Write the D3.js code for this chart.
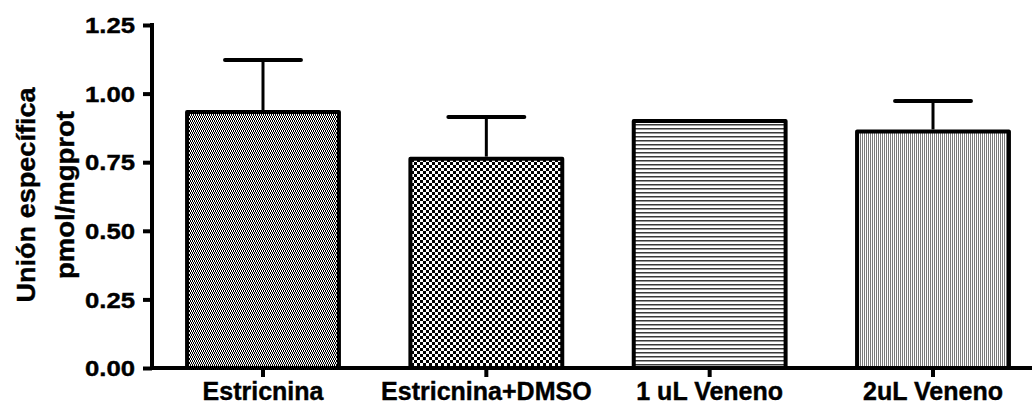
<!DOCTYPE html>
<html>
<head>
<meta charset="utf-8">
<script src="https://cdn.jsdelivr.net/npm/d3@7/dist/d3.min.js"></script>
<style>
  html, body { margin: 0; padding: 0; background: #fff; }
  svg { display: block; }
  text { font-family: "Liberation Sans", Arial, sans-serif; font-weight: bold; fill: #000;
         stroke: #000; stroke-width: 0.4px; }
</style>
</head>
<body>
<svg id="chart" width="1032" height="404"></svg>
<script>
// Specific binding per treatment (mean ± SEM, pmol/mg prot)
const categories = ["Estricnina", "Estricnina+DMSO", "1 uL Veneno", "2uL Veneno"];
const means = [0.933, 0.763, 0.900, 0.862];
const sems = [0.189, 0.152, null, 0.111];
const yTicks = [0, 0.25, 0.5, 0.75, 1.0, 1.25];
const yTitle = ["Unión específica", "pmol/mgprot"];
const fillIds = ["checkFine", "checkCoarse", "hLines", "vLines"];

const svg = d3.select("#chart");
const W = 1032, H = 404;

const y = d3.scaleLinear().domain([0, 1.25]).range([368, 25]);
const x = d3.scaleBand().domain(categories).range([152, 1044])
  .paddingInner(0.32).paddingOuter(0.157);

// Fill patterns for the bars
const defs = svg.append("defs");
function pattern(id, w, h, rects) {
  const p = defs.append("pattern").attr("id", id).attr("patternUnits", "userSpaceOnUse")
    .attr("width", w).attr("height", h);
  p.append("rect").attr("width", w).attr("height", h).attr("fill", "#fff");
  rects.forEach(r => p.append("rect").attr("x", r[0]).attr("y", r[1])
    .attr("width", r[2]).attr("height", r[3]).attr("fill", r[4]));
}
pattern("checkFine", 2, 4, [[0, 0, 1, 2, "#000"], [1, 2, 1, 2, "#000"]]);
pattern("checkCoarse", 6, 6, [[0, 0, 3, 3, "#000"], [3, 3, 3, 3, "#000"]]);
pattern("hLines", 4, 4, [[0, 0, 4, 1, "#3a3a3a"], [0, 1, 4, 1, "#9a9a9a"]]);
pattern("vLines", 2, 2, [[0, 0, 1, 2, "#7a7a7a"]]);

// Bars
const g = svg.append("g");
g.selectAll("rect.bar").data(categories).join("rect")
  .attr("class", "bar")
  .attr("x", d => x(d))
  .attr("width", x.bandwidth())
  .attr("y", (d, i) => y(means[i]))
  .attr("height", (d, i) => y(0) - y(means[i]))
  .attr("fill", (d, i) => `url(#${fillIds[i]})`)
  .attr("stroke", "#000").attr("stroke-width", 4).attr("stroke-linejoin", "round");

// Error bars (upper half only)
const capHalf = x.bandwidth() * 0.25;
categories.forEach((c, i) => {
  if (sems[i] == null) return;
  const cx = x(c) + x.bandwidth() / 2;
  g.append("line").attr("x1", cx).attr("x2", cx)
    .attr("y1", y(means[i]) - 2).attr("y2", y(means[i] + sems[i]))
    .attr("stroke", "#000").attr("stroke-width", 3);
  g.append("line").attr("x1", cx - capHalf).attr("x2", cx + capHalf)
    .attr("y1", y(means[i] + sems[i])).attr("y2", y(means[i] + sems[i]))
    .attr("stroke", "#000").attr("stroke-width", 4).attr("stroke-linecap", "round");
});

// Y axis
const yAxis = svg.append("g").attr("transform", "translate(152,0)")
  .call(d3.axisLeft(y).tickValues(yTicks).tickFormat(d3.format(".2f"))
    .tickSize(9).tickPadding(8));
yAxis.select(".domain").remove();
yAxis.selectAll(".tick line").attr("stroke", "#000").attr("stroke-width", 4);
yAxis.selectAll(".tick text")
  .attr("font-size", 22).attr("font-family", null)
  .attr("dy", "0.35em")
  .attr("textLength", 50).attr("lengthAdjust", "spacingAndGlyphs");
svg.append("line").attr("x1", 152).attr("x2", 152).attr("y1", y(1.25) - 2).attr("y2", y(0) + 2)
  .attr("stroke", "#000").attr("stroke-width", 4);

// X axis
const xAxis = svg.append("g").attr("transform", `translate(0,${y(0)})`)
  .call(d3.axisBottom(x).tickSize(9).tickPadding(8));
xAxis.select(".domain").remove();
xAxis.selectAll(".tick line").attr("stroke", "#000").attr("stroke-width", 4);
xAxis.selectAll(".tick text")
  .attr("font-size", 25).attr("font-family", null)
  .attr("dy", null).attr("y", 31.5);
svg.append("line").attr("x1", 150).attr("x2", W).attr("y1", y(0)).attr("y2", y(0))
  .attr("stroke", "#000").attr("stroke-width", 4);

// Y axis title, two rotated lines
const titleX = [35, 74];
const titleLen = [215, 168];
yTitle.forEach((t, i) => {
  svg.append("text")
    .attr("transform", `translate(${titleX[i]},195) rotate(-90)`)
    .attr("text-anchor", "middle")
    .attr("font-size", 25)
    .attr("textLength", titleLen[i]).attr("lengthAdjust", "spacingAndGlyphs")
    .text(t);
});
</script>
</body>
</html>
